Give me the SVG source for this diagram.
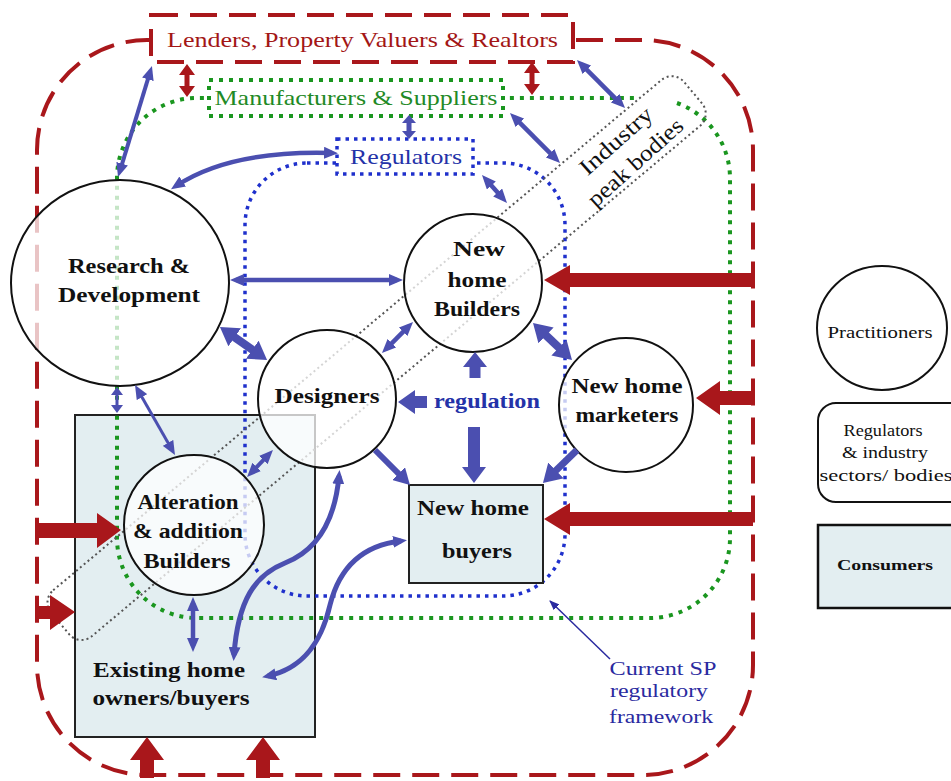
<svg xmlns="http://www.w3.org/2000/svg" width="951" height="781" viewBox="0 0 951 781">
<style>
.red-dash{fill:none;stroke:#a9171b;stroke-width:4;stroke-dasharray:27 12}
.green-dot{fill:none;stroke:#1a961f;stroke-width:4;stroke-dasharray:4 6}
.blue-dot{fill:none;stroke:#1f30cc;stroke-width:3.5;stroke-dasharray:3.5 5}
.grey-dot{fill:none;stroke:#555;stroke-width:2;stroke-dasharray:2 3}
.node{fill:#fff;fill-opacity:0.75;stroke:#111;stroke-width:2}
.cons{fill:#e3eef1;stroke:#222;stroke-width:2}
.ba{fill:none;stroke:#4b4fb0}
.bf{fill:#4b4fb0}
.rf{fill:#a9171b}
text{font-family:"Liberation Serif","Times New Roman",serif}
.lbl{font-size:21px;font-weight:bold;fill:#111;text-anchor:middle}
.leg{font-size:17px;fill:#111;text-anchor:middle}
</style>
<defs>
<marker id="bs" viewBox="0 0 14 12" markerWidth="14" markerHeight="12" refX="8" refY="6" orient="auto-start-reverse" markerUnits="userSpaceOnUse"><path d="M0,0 L14,6 L0,12 z" fill="#4b4fb0"/></marker>
<marker id="bm" viewBox="0 0 16 18" markerWidth="16" markerHeight="18" refX="8" refY="9" orient="auto-start-reverse" markerUnits="userSpaceOnUse"><path d="M0,0 L16,9 L0,18 z" fill="#4b4fb0"/></marker>
<marker id="bl" viewBox="0 0 18 22" markerWidth="18" markerHeight="22" refX="10" refY="11" orient="auto-start-reverse" markerUnits="userSpaceOnUse"><path d="M0,0 L18,11 L0,22 z" fill="#4b4fb0"/></marker>
<marker id="ct" viewBox="0 0 10 8" markerWidth="10" markerHeight="8" refX="9" refY="4" orient="auto" markerUnits="userSpaceOnUse"><path d="M0,0 L10,4 L0,8 z" fill="#2a2aa0"/></marker>
</defs>

<g id="boundaries">
<rect class="red-dash" x="37" y="40" width="716" height="735" rx="110"/>
<rect class="cons" x="75" y="415" width="240" height="322"/>
<path class="green-dot" d="M677,103 A80,80 0 0 1 730,178 L730,538 A80,80 0 0 1 650,618 L197,618 A80,80 0 0 1 117,538 L117,178 A80,80 0 0 1 197,98 L640,98"/>
<rect class="blue-dot" x="245" y="163" width="320" height="433" rx="62"/>
</g>

<g id="industry-peak-bodies" transform="translate(376.6,358.1) rotate(-40)">
<rect class="grey-dot" x="-413" y="-30" width="826" height="60" rx="16"/>
<g transform="translate(323.7,8) rotate(-2)">
<text x="0" y="-13" font-size="23" text-anchor="middle" fill="#111" textLength="90" lengthAdjust="spacingAndGlyphs">Industry</text>
<text x="0" y="16" font-size="23" text-anchor="middle" fill="#111" textLength="120" lengthAdjust="spacingAndGlyphs">peak bodies</text>
</g>
</g>

<g id="lenders">
<rect x="151" y="15" width="422" height="47" fill="#fff" stroke="none"/>
<rect x="151" y="15" width="422" height="47" class="red-dash"/>
<text x="362.5" y="47" font-size="21" text-anchor="middle" fill="#a31616" textLength="391" lengthAdjust="spacingAndGlyphs">Lenders, Property Valuers &amp; Realtors</text>
</g>

<g id="manufacturers">
<rect x="209" y="80" width="294" height="36" fill="#fff"/>
<rect x="209" y="80" width="294" height="36" class="green-dot"/>
<text x="356" y="105" font-size="21" text-anchor="middle" fill="#1f8a26" textLength="283" lengthAdjust="spacingAndGlyphs">Manufacturers &amp; Suppliers</text>
</g>

<g id="regulators">
<rect x="337" y="139" width="136" height="35" fill="#fff"/>
<rect x="337" y="139" width="136" height="35" class="blue-dot"/>
<text x="406" y="164" font-size="21" text-anchor="middle" fill="#2432a8" textLength="112" lengthAdjust="spacingAndGlyphs">Regulators</text>
</g>

<g id="research">
<ellipse class="node" cx="120" cy="283" rx="109" ry="103"/>
<text class="lbl" x="129" y="273" textLength="122" lengthAdjust="spacingAndGlyphs">Research &amp;</text>
<text class="lbl" x="129" y="302" textLength="142" lengthAdjust="spacingAndGlyphs">Development</text>
</g>

<g id="builders">
<circle class="node" cx="473" cy="283" r="69"/>
<text class="lbl" x="479" y="256" textLength="52" lengthAdjust="spacingAndGlyphs">New</text>
<text class="lbl" x="477" y="287" textLength="59" lengthAdjust="spacingAndGlyphs">home</text>
<text class="lbl" x="477" y="316" textLength="86" lengthAdjust="spacingAndGlyphs">Builders</text>
</g>

<g id="designers">
<circle class="node" cx="327" cy="399" r="69"/>
<text class="lbl" x="327" y="403" textLength="105" lengthAdjust="spacingAndGlyphs">Designers</text>
</g>

<g id="marketers">
<circle class="node" cx="626" cy="405" r="67"/>
<text class="lbl" x="627" y="393" textLength="111" lengthAdjust="spacingAndGlyphs">New home</text>
<text class="lbl" x="627" y="422" textLength="103" lengthAdjust="spacingAndGlyphs">marketers</text>
</g>

<g id="alteration">
<circle class="node" cx="194" cy="525" r="70"/>
<text class="lbl" x="188" y="509" textLength="101" lengthAdjust="spacingAndGlyphs">Alteration</text>
<text class="lbl" x="188" y="538" textLength="110" lengthAdjust="spacingAndGlyphs">&amp; addition</text>
<text class="lbl" x="187" y="568" textLength="87" lengthAdjust="spacingAndGlyphs">Builders</text>
</g>

<g id="buyers">
<rect class="cons" x="409" y="485" width="134" height="98"/>
<text class="lbl" x="473" y="515" textLength="112" lengthAdjust="spacingAndGlyphs">New home</text>
<text class="lbl" x="477" y="558" textLength="70" lengthAdjust="spacingAndGlyphs">buyers</text>
</g>

<g id="existing">
<text class="lbl" x="169" y="677" textLength="152" lengthAdjust="spacingAndGlyphs">Existing home</text>
<text class="lbl" x="171" y="705" textLength="157" lengthAdjust="spacingAndGlyphs">owners/buyers</text>
</g>

<g id="connectors">
<polygon class="rf" points="544,280 570,265 570,273 753,273 753,287 570,287 570,295"/>
<polygon class="rf" points="696,398 720,381 720,391 753,391 753,405 720,405 720,415"/>
<polygon class="rf" points="544,519 570,503 570,512 753,512 753,526 570,526 570,535"/>
<polygon class="rf" points="121,530 97,513 97,523 37,523 37,538 97,538 97,548"/>
<polygon class="rf" points="75,612 50,595 50,606 37,606 37,619 50,619 50,630"/>
<polygon class="rf" points="147,737 164,760 154,760 154,778 140,778 140,760 130,760"/>
<polygon class="rf" points="263,737 280,760 270,760 270,778 256,778 256,760 246,760"/>
<polygon class="rf" points="187,64 195,75 189.5,75 189.5,86 195,86 187,97 179,86 184.5,86 184.5,75 179,75"/>
<polygon class="rf" points="532,62 540,73 534.5,73 534.5,84 540,84 532,95 524,84 529.5,84 529.5,73 524,73"/>

<line class="ba" stroke-width="4" x1="150.2" y1="71.7" x2="119.8" y2="171.3" marker-start="url(#bs)" marker-end="url(#bs)"/>
<line class="ba" stroke-width="4.5" x1="581.2" y1="64.2" x2="620.8" y2="103.8" marker-start="url(#bs)" marker-end="url(#bs)"/>
<line class="ba" stroke-width="4.5" x1="514.2" y1="117.2" x2="555.8" y2="158.8" marker-start="url(#bs)" marker-end="url(#bs)"/>
<polygon class="bf" points="409,115 416,123 411.5,123 411.5,131 416,131 409,139 402,131 406.5,131 406.5,123 402,123"/>
<path class="ba" stroke-width="4.5" d="M332,153 Q230,150 176,186" marker-start="url(#bs)" marker-end="url(#bs)"/>
<line class="ba" stroke-width="4.5" x1="486" y1="179.5" x2="503" y2="198.5" marker-start="url(#bs)" marker-end="url(#bs)"/>
<line class="ba" stroke-width="4.5" x1="236" y1="280" x2="397" y2="280" marker-start="url(#bs)" marker-end="url(#bs)"/>
<line class="ba" stroke-width="8" x1="226.5" y1="331.6" x2="260.5" y2="355.4" marker-start="url(#bl)" marker-end="url(#bl)"/>
<line class="ba" stroke-width="4.5" x1="386.2" y1="348.8" x2="408.8" y2="326.2" marker-start="url(#bs)" marker-end="url(#bs)"/>
<line class="ba" stroke-width="8" x1="538.8" y1="328.5" x2="566.2" y2="354.5" marker-start="url(#bl)" marker-end="url(#bl)"/>
<polygon class="bf" points="475,352 487,367 480.5,367 480.5,378 469.5,378 469.5,367 463,367"/>
<polygon class="bf" points="398,402 415,390 415,396 427,396 427,408 415,408 415,414"/>
<polygon class="bf" points="474,483 486,467 480,467 480,427 468,427 468,467 462,467"/>
<line class="ba" stroke-width="6" x1="375" y1="450" x2="404.3" y2="479.3" marker-end="url(#bm)"/>
<line class="ba" stroke-width="7" x1="577" y1="450" x2="548.7" y2="477.4" marker-end="url(#bl)"/>
<line class="ba" stroke-width="4" x1="251.2" y1="472.7" x2="268.8" y2="454.3" marker-start="url(#bs)" marker-end="url(#bs)"/>
<line class="ba" stroke-width="3" x1="138" y1="390.2" x2="172" y2="449.8" marker-start="url(#bs)" marker-end="url(#bs)"/>
<polygon class="bf" points="117,387 123,395 118.5,395 118.5,405 123,405 117,413 111,405 115.5,405 115.5,395 111,395"/>
<line class="ba" stroke-width="4.5" x1="193" y1="603" x2="193" y2="646" marker-start="url(#bs)" marker-end="url(#bs)"/>
<path class="ba" stroke-width="5" d="M234,655 C238,600 255,575 285,563 C318,550 335,520 339,476" marker-start="url(#bs)" marker-end="url(#bs)"/>
<path class="ba" stroke-width="5" d="M268,676 C305,668 322,640 330,605 C340,565 365,545 401,541" marker-start="url(#bs)" marker-end="url(#bs)"/>
<line stroke="#2a2aa0" stroke-width="1.5" x1="610" y1="659" x2="550" y2="601" marker-end="url(#ct)"/>
</g>

<g id="regulation-label">
<text x="487" y="408" font-size="21" font-weight="bold" fill="#2432a8" text-anchor="middle" textLength="106" lengthAdjust="spacingAndGlyphs">regulation</text>
</g>

<g id="current-sp">
<text x="663" y="675" font-size="19" fill="#2a2aa0" text-anchor="middle" textLength="107" lengthAdjust="spacingAndGlyphs">Current SP</text>
<text x="659" y="697" font-size="19" fill="#2a2aa0" text-anchor="middle" textLength="98" lengthAdjust="spacingAndGlyphs">regulatory</text>
<text x="661" y="723" font-size="19" fill="#2a2aa0" text-anchor="middle" textLength="104" lengthAdjust="spacingAndGlyphs">framework</text>
</g>

<g id="legend-practitioners">
<ellipse cx="882" cy="328" rx="65" ry="62" fill="#fff" stroke="#111" stroke-width="2"/>
<text class="leg" x="880" y="338" textLength="105" lengthAdjust="spacingAndGlyphs">Practitioners</text>
</g>
<g id="legend-regulators">
<rect x="818" y="403" width="150" height="99" rx="18" fill="#fff" stroke="#111" stroke-width="2"/>
<text class="leg" x="883" y="436" textLength="79" lengthAdjust="spacingAndGlyphs">Regulators</text>
<text class="leg" x="885" y="458" textLength="86" lengthAdjust="spacingAndGlyphs">&amp; industry</text>
<text class="leg" x="886" y="481" textLength="133" lengthAdjust="spacingAndGlyphs">sectors/ bodies</text>
</g>
<g id="legend-consumers">
<rect x="818" y="525" width="150" height="83" fill="#e3eef1" stroke="#111" stroke-width="2.5"/>
<text x="885" y="570" font-size="15" font-weight="bold" fill="#111" text-anchor="middle" textLength="96" lengthAdjust="spacingAndGlyphs">Consumers</text>
</g>
</svg>
